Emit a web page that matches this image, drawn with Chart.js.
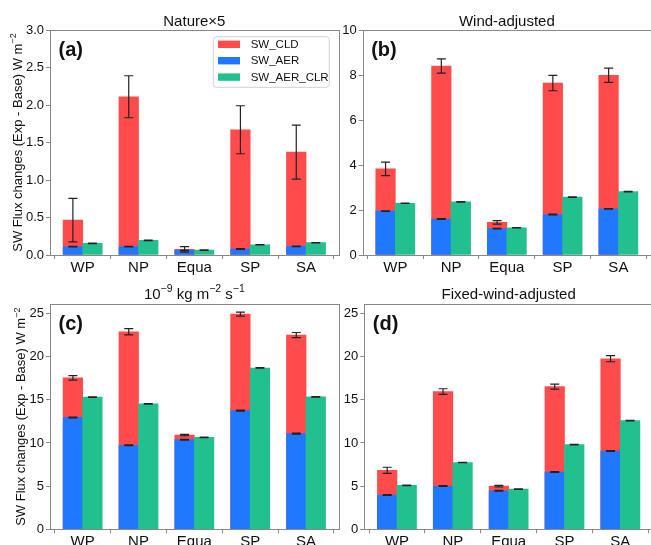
<!DOCTYPE html>
<html>
<head>
<meta charset="utf-8">
<title>SW flux changes</title>
<style>
    html, body { margin:0; padding:0; background:#fff; overflow:hidden; }
    body { width:651px; height:545px; position:relative; }
    .panel { position:absolute; }
</style>
</head>
<body>
<div class="panel" style="left:0;top:0;width:340px;height:280px"><canvas id="pa"></canvas></div>
<div class="panel" style="left:312px;top:0;width:339px;height:280px"><canvas id="pb"></canvas></div>
<div class="panel" style="left:0;top:280px;width:340px;height:265px"><canvas id="pc"></canvas></div>
<div class="panel" style="left:312px;top:280px;width:341px;height:265px"><canvas id="pd"></canvas></div>

<script src="https://cdn.jsdelivr.net/npm/chart.js@4.4.0/dist/chart.umd.min.js"></script>
<script>
    const regions = ['WP', 'NP', 'Equa', 'SP', 'SA'];
    const seriesNames = ['SW_CLD', 'SW_AER', 'SW_AER_CLR'];

    // (a) Nature x5
    const cldA = [0.465, 2.11, 0.075, 1.67, 1.373];
    const cldErrA = [0.29, 0.28, 0.037, 0.32, 0.36];
    const aerA = [0.111, 0.111, 0.062, 0.08, 0.115];
    const aerErrA = [0.004, 0.004, 0.004, 0.004, 0.004];
    const clrA = [0.155, 0.195, 0.066, 0.137, 0.164];
    const clrErrA = [0.003, 0.003, 0.003, 0.003, 0.003];
    const yTicksA = [0, 0.5, 1.0, 1.5, 2.0, 2.5, 3.0];

    // (b) Wind-adjusted
    const cldB = [3.83, 8.40, 1.45, 7.64, 7.99];
    const cldErrB = [0.30, 0.32, 0.08, 0.34, 0.32];
    const aerB = [1.95, 1.60, 1.17, 1.80, 2.05];
    const aerErrB = [0.015, 0.015, 0.015, 0.015, 0.015];
    const clrB = [2.30, 2.36, 1.21, 2.57, 2.82];
    const clrErrB = [0.01, 0.01, 0.01, 0.01, 0.01];
    const yTicksB = [0, 2, 4, 6, 8, 10];

    // (c) 10^-9 kg m^-2 s^-1
    const cldC = [17.54, 22.88, 10.92, 24.92, 22.5];
    const cldErrC = [0.27, 0.36, 0.08, 0.23, 0.3];
    const aerC = [12.96, 9.73, 10.38, 13.75, 11.08];
    const aerErrC = [0.05, 0.05, 0.05, 0.05, 0.05];
    const clrC = [15.31, 14.54, 10.65, 18.69, 15.35];
    const clrErrC = [0.03, 0.03, 0.03, 0.03, 0.03];
    const yTicksC = [0, 5, 10, 15, 20, 25];

    // (d) Fixed-wind-adjusted
    const cldD = [6.84, 15.95, 5.0, 16.52, 19.76];
    const cldErrD = [0.35, 0.33, 0.1, 0.29, 0.35];
    const aerD = [3.97, 5.02, 4.47, 6.63, 9.06];
    const aerErrD = [0.05, 0.05, 0.05, 0.05, 0.05];
    const clrD = [5.09, 7.74, 4.66, 9.81, 12.6];
    const clrErrD = [0.03, 0.03, 0.03, 0.03, 0.03];
    const yTicksD = [0, 5, 10, 15, 20, 25];

    const FONT = '"Liberation Sans", Arial, sans-serif';
    const colors = ['#ff4b4b', '#1f78ff', '#22c08f'];
    const barW = 0.35;
    const cap = 4.5;

    Chart.defaults.font.family = FONT;
    Chart.defaults.color = '#111';

    function pts(vals, dx) {
        return vals.map((v, i) => ({x: i + dx, y: v}));
    }

    // text with ^superscript parts
    function richWidth(ctx, parts, size) {
        let w = 0;
        parts.forEach(p => {
            const sup = p[0] === '^';
            ctx.font = (sup ? size * 0.7 : size) + 'px ' + FONT;
            w += ctx.measureText(sup ? p.slice(1) : p).width;
        });
        return w;
    }
    function drawRich(ctx, parts, x, y, size) {
        let cx = x - richWidth(ctx, parts, size) / 2;
        ctx.textAlign = 'left';
        ctx.textBaseline = 'alphabetic';
        parts.forEach(p => {
            const sup = p[0] === '^';
            const t = sup ? p.slice(1) : p;
            ctx.font = (sup ? size * 0.7 : size) + 'px ' + FONT;
            ctx.fillText(t, cx, sup ? y - size * 0.42 : y);
            cx += ctx.measureText(t).width;
        });
    }

    const decor = {
        id: 'decor',
        afterDatasetsDraw(chart, args, o) {
            const ctx = chart.ctx, a = chart.chartArea, ys = chart.scales.y;
            ctx.save();
            ctx.strokeStyle = '#222';
            ctx.lineWidth = 1.2;
            chart.data.datasets.forEach((ds, i) => {
                chart.getDatasetMeta(i).data.forEach((bar, j) => {
                    const v = ds.data[j].y, e = ds.errors[j];
                    const t = ys.getPixelForValue(v + e), b = ys.getPixelForValue(v - e);
                    ctx.beginPath();
                    ctx.moveTo(bar.x, t); ctx.lineTo(bar.x, b);
                    ctx.moveTo(bar.x - cap, t); ctx.lineTo(bar.x + cap, t);
                    ctx.moveTo(bar.x - cap, b); ctx.lineTo(bar.x + cap, b);
                    ctx.stroke();
                });
            });

            // frame
            ctx.strokeStyle = '#888';
            ctx.lineWidth = 1;
            ctx.strokeRect(Math.round(a.left) + 0.5, Math.round(a.top) + 0.5,
                Math.round(a.right - a.left), Math.round(a.bottom - a.top));

            // legend
            if (o.legend) {
                const w = 116, h = 50.6;
                const x0 = a.right - 9.4 - w, y0 = a.top + 6.7;
                ctx.beginPath();
                ctx.roundRect(x0, y0, w, h, 3);
                ctx.fillStyle = 'rgba(255,255,255,0.85)';
                ctx.fill();
                ctx.strokeStyle = '#d0d0d0';
                ctx.stroke();
                ctx.font = '11.5px ' + FONT;
                ctx.textAlign = 'left';
                ctx.textBaseline = 'middle';
                seriesNames.forEach((name, k) => {
                    const cy = y0 + 7.6 + k * 16.4;
                    ctx.fillStyle = colors[k];
                    ctx.fillRect(x0 + 4.7, cy - 3.7, 22, 7.4);
                    ctx.fillStyle = '#111';
                    ctx.fillText(name, x0 + 37.4, cy + 0.5);
                });
            }

            // title, panel letter, y title
            ctx.fillStyle = '#111';
            drawRich(ctx, o.title, (a.left + a.right) / 2, a.top - o.titleGap, 15);
            ctx.font = 'bold 20px ' + FONT;
            ctx.textAlign = 'left';
            ctx.textBaseline = 'alphabetic';
            ctx.fillText(o.letter, a.left + 8.5, a.top + o.letterDy);
            if (o.yTitleX) {
                ctx.translate(o.yTitleX, (a.top + a.bottom) / 2);
                ctx.rotate(-Math.PI / 2);
                drawRich(ctx, ['SW Flux changes (Exp - Base) W m', '^\u22122'], 0, 0, 13);
            }
            ctx.restore();
        }
    };

    function makePanel(id, o) {
        return new Chart(id, {
            type: 'bar',
            data: {
                datasets: [
                    {label: seriesNames[0], data: pts(o.cld, -barW / 2), errors: o.cldErr, backgroundColor: colors[0], order: 2},
                    {label: seriesNames[1], data: pts(o.aer, -barW / 2), errors: o.aerErr, backgroundColor: colors[1], order: 1},
                    {label: seriesNames[2], data: pts(o.clr, barW / 2), errors: o.clrErr, backgroundColor: colors[2], order: 0}
                ]
            },
            options: {
                responsive: true,
                maintainAspectRatio: false,
                animation: false,
                events: [],
                layout: {padding: o.pad},
                datasets: {bar: {categoryPercentage: 1, barPercentage: 1, borderWidth: 0}},
                plugins: {
                    legend: {display: false},
                    tooltip: {enabled: false},
                    decor: {title: o.title, letter: o.letter, titleGap: o.titleGap, letterDy: o.letterDy,
                        legend: o.legend, yTitleX: o.yTitleX}
                },
                scales: {
                    x: {
                        type: 'linear', stacked: true, offset: false,
                        min: -0.585, max: 4.585,
                        afterBuildTicks: s => { s.ticks = regions.map((r, i) => ({value: i})); },
                        afterFit: s => { s.height = o.xh; },
                        ticks: {callback: v => regions[v], font: {size: 15}, color: '#111', padding: 0,
                            maxRotation: 0, autoSkip: false},
                        grid: {drawOnChartArea: false, tickLength: 4, color: '#888'},
                        border: {display: false}
                    },
                    y: {
                        min: 0, max: o.ymax,
                        afterBuildTicks: s => { s.ticks = o.yTicks.map(v => ({value: v})); },
                        afterFit: s => { s.width = o.yw; },
                        ticks: {callback: v => o.fmt(v), font: {size: 13}, color: '#111', padding: 2},
                        grid: {drawOnChartArea: false, tickLength: 4, color: '#888'},
                        border: {display: false}
                    }
                }
            },
            plugins: [decor]
        });
    }

    makePanel('pa', {
        cld: cldA, cldErr: cldErrA, aer: aerA, aerErr: aerErrA, clr: clrA, clrErr: clrErrA,
        yTicks: yTicksA, ymax: 3.0, fmt: v => v.toFixed(1),
        title: ['Nature\u00d75'], letter: '(a)', legend: true, yTitleX: 21.7,
        pad: {left: 0, top: 30, right: 1.3, bottom: 0}, yw: 50, xh: 25, titleGap: 4.3, letterDy: 26
    });
    makePanel('pb', {
        cld: cldB, cldErr: cldErrB, aer: aerB, aerErr: aerErrB, clr: clrB, clrErr: clrErrB,
        yTicks: yTicksB, ymax: 10, fmt: v => String(v),
        title: ['Wind-adjusted'], letter: '(b)', legend: false, yTitleX: 0,
        pad: {left: 0, top: 30, right: 0, bottom: 0}, yw: 50.7, xh: 25, titleGap: 4.3, letterDy: 26
    });
    makePanel('pc', {
        cld: cldC, cldErr: cldErrC, aer: aerC, aerErr: aerErrC, clr: clrC, clrErr: clrErrC,
        yTicks: yTicksC, ymax: 26.1, fmt: v => String(v),
        title: ['10', '^\u22129', ' kg m', '^\u22122', ' s', '^\u22121'], letter: '(c)', legend: false, yTitleX: 25.2,
        pad: {left: 0, top: 24, right: 1.3, bottom: 0}, yw: 50, xh: 15.7, titleGap: 5.5, letterDy: 25.5
    });
    makePanel('pd', {
        cld: cldD, cldErr: cldErrD, aer: aerD, aerErr: aerErrD, clr: clrD, clrErr: clrErrD,
        yTicks: yTicksD, ymax: 26.1, fmt: v => String(v),
        title: ['Fixed-wind-adjusted'], letter: '(d)', legend: false, yTitleX: 0,
        pad: {left: 0, top: 24, right: 0, bottom: 0}, yw: 52.3, xh: 15.7, titleGap: 5.5, letterDy: 25.5
    });
</script>
</body>
</html>
